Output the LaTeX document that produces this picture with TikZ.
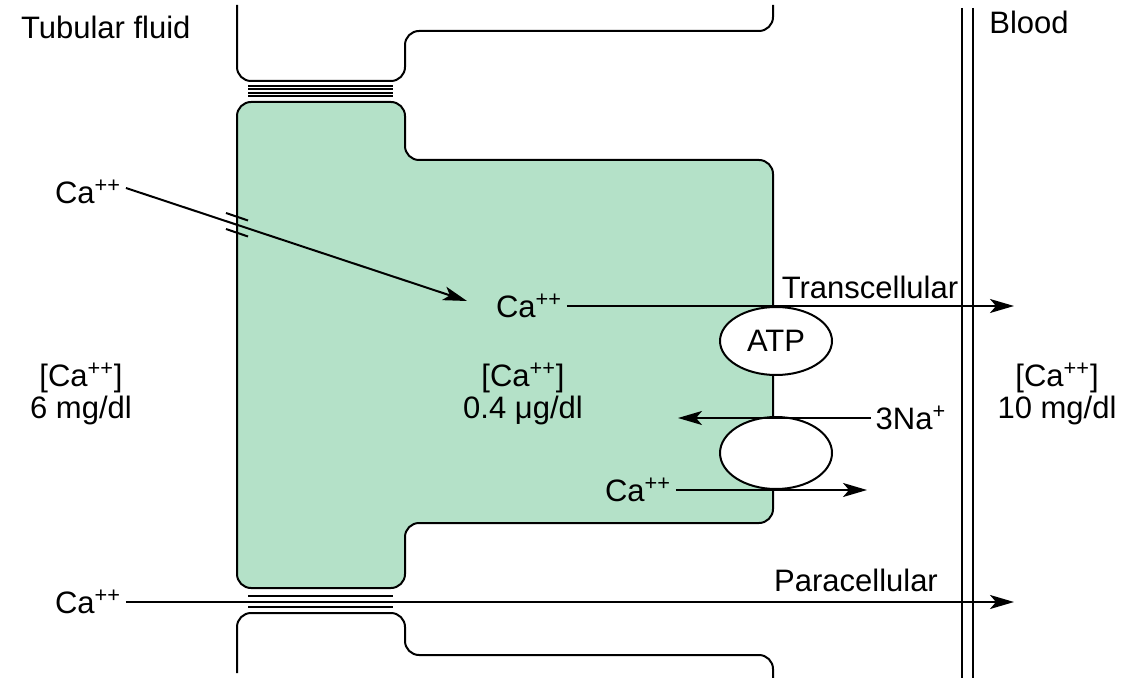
\documentclass[tikz,border=0pt]{standalone}
\usepackage{fontspec}
\setmainfont{Liberation Sans}
\usetikzlibrary{arrows.meta,positioning}
\definecolor{cellgreen}{RGB}{180,225,200}
\tikzset{lbl/.style={inner sep=2pt, font=\fontsize{15.5}{16}\selectfont, align=center},
  wall/.style={line width=1pt, rounded corners=7pt},
  pump/.style={draw, line width=1pt, fill=white, ellipse, minimum width=56pt, minimum height=34pt, inner sep=0pt, font=\fontsize{15.5}{16}\selectfont}}
\usetikzlibrary{shapes.geometric}
\begin{document}
\begin{tikzpicture}[x=0.5pt, y=-0.5pt, >={Stealth[length=12pt, width=7pt, inset=3pt]}, line width=1pt]
\useasboundingbox (0,0) rectangle (1139,678);
\draw[wall] (237,5) -- (237,81) -- (405,81) -- (405,31) -- (773,31) -- (773,5);
\draw[wall, fill=cellgreen] (237,102) -- (405,102) -- (405,160) -- (773,160) -- (773,523) -- (405,523) -- (405,588) -- (237,588) -- cycle;
\draw[wall] (237,673) -- (237,613) -- (405,613) -- (405,655) -- (773,655) -- (773,680);
\foreach \y in {86,89.5,93,96.5} \draw (248,\y) -- (393,\y);
\foreach \y in {596,607} \draw (248,\y) -- (393,\y);
\draw (962,8) -- (962,678); \draw (973,8) -- (973,678);
\draw (226,213) -- (248,220.5); \draw (226,229) -- (248,236.5);
\node[lbl, anchor=west] (tf) at (16,27) {Tubular fluid};
\node[lbl] (bl) at (1029,22) {Blood};
\node[pump] (atp) at (776,341) {ATP};
\node[pump, minimum height=36pt] (nca) at (776,453) {};
\node[lbl] (ca1) at (88,192) {Ca\textsuperscript{++}};
\node[lbl] (ca2) at (529,306) {Ca\textsuperscript{++}};
\node[lbl] (ca3) at (638,490) {Ca\textsuperscript{++}};
\node[lbl] (ca4) at (88,602) {Ca\textsuperscript{++}};
\node[lbl] (na) at (911,418) {3Na\textsuperscript{+}};
\node[lbl] (tc) at (870,287) {Transcellular};
\node[lbl] (pc) at (856,580) {Paracellular};
\node[lbl] (tub) at (81,394) {[Ca\textsuperscript{++}]\\6 mg/dl};
\node[lbl] (cyt) at (523,394) {[Ca\textsuperscript{++}]\\0.4 μg/dl};
\node[lbl] (bld) at (1057,394) {[Ca\textsuperscript{++}]\\10 mg/dl};
\coordinate (e1) at (467,301); \coordinate (e2) at (1014,306); \coordinate (e3) at (867,490);
\coordinate (e4) at (1014,602); \coordinate (e5) at (678,418);
\draw[->] ([yshift=2pt]ca1.east) -- (e1); \draw[->] (ca2) -- (e2); \draw[->] (ca3) -- (e3);
\draw[->] (ca4) -- (e4); \draw[->] (na) -- (e5);
\end{tikzpicture}
\end{document}
